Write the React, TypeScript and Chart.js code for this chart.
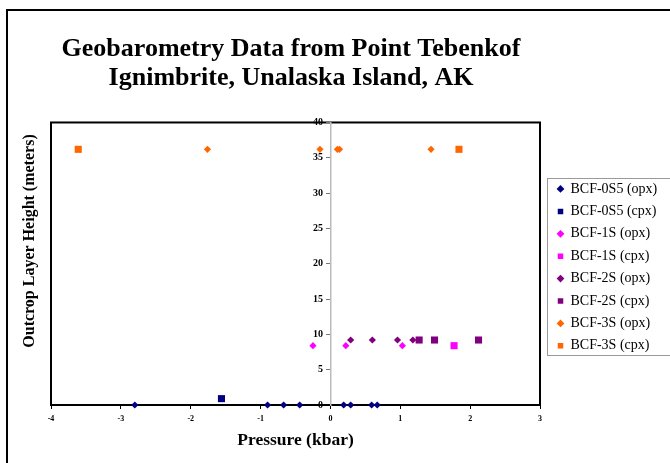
import React, { useEffect, useRef } from 'react';
import { Chart, registerables } from 'chart.js';

Chart.register(...registerables);

const FONT = '"Liberation Serif", "Times New Roman", serif';

const titleLines = ['Geobarometry Data from Point Tebenkof', 'Ignimbrite, Unalaska Island, AK'];
const xTitle = 'Pressure (kbar)';
const yTitle = 'Outcrop Layer Height (meters)';

const seriesNames = [
  'BCF-0S5 (opx)',
  'BCF-0S5 (cpx)',
  'BCF-1S (opx)',
  'BCF-1S (cpx)',
  'BCF-2S (opx)',
  'BCF-2S (cpx)',
  'BCF-3S (opx)',
  'BCF-3S (cpx)',
];
const seriesColors = ['#000080', '#000080', '#FF00FF', '#FF00FF', '#800080', '#800080', '#FF6600', '#FF6600'];
const seriesStyles = ['rectRot', 'rect', 'rectRot', 'rect', 'rectRot', 'rect', 'rectRot', 'rect'];

// pressure (kbar) and height (m) per series
const bcf0s5OpxP = [-2.8, -0.9, -0.67, -0.44, 0.19, 0.29, 0.59, 0.67];
const bcf0s5OpxH = [0, 0, 0, 0, 0, 0, 0, 0];
const bcf0s5CpxP = [-1.56];
const bcf0s5CpxH = [0.9];
const bcf1sOpxP = [-0.25, 0.22, 1.03];
const bcf1sOpxH = [8.4, 8.4, 8.4];
const bcf1sCpxP = [1.77];
const bcf1sCpxH = [8.4];
const bcf2sOpxP = [0.29, 0.6, 0.96, 1.18];
const bcf2sOpxH = [9.2, 9.2, 9.2, 9.2];
const bcf2sCpxP = [1.27, 1.49, 2.12];
const bcf2sCpxH = [9.2, 9.2, 9.2];
const bcf3sOpxP = [-1.76, -0.15, 0.1, 0.13, 1.44];
const bcf3sOpxH = [36.2, 36.2, 36.2, 36.2, 36.2];
const bcf3sCpxP = [-3.61, 1.84];
const bcf3sCpxH = [36.2, 36.2];

const seriesP = [bcf0s5OpxP, bcf0s5CpxP, bcf1sOpxP, bcf1sCpxP, bcf2sOpxP, bcf2sCpxP, bcf3sOpxP, bcf3sCpxP];
const seriesH = [bcf0s5OpxH, bcf0s5CpxH, bcf1sOpxH, bcf1sCpxH, bcf2sOpxH, bcf2sCpxH, bcf3sOpxH, bcf3sCpxH];

const xMin = -4;
const xMax = 3;
const xStep = 1;
const yMin = 0;
const yMax = 40;
const yStep = 5;

const framePlugin = {
  id: 'frames',
  beforeDraw(chart: any) {
    const { ctx, chartArea: ca, width, height } = chart;
    ctx.save();
    ctx.fillStyle = '#ffffff';
    ctx.fillRect(0, 0, width, height);
    ctx.strokeStyle = '#000000';
    ctx.lineWidth = 2;
    ctx.beginPath();
    ctx.moveTo(7, height + 4);
    ctx.lineTo(7, 10);
    ctx.lineTo(width + 4, 10);
    ctx.stroke();
    ctx.strokeRect(ca.left, ca.top, ca.right - ca.left, ca.bottom - ca.top);
    ctx.restore();
  },
  afterLayout(chart: any) {
    const lg = chart.legend;
    const ca = chart.chartArea;
    if (lg) {
      const pad = lg.options.labels.padding;
      const w = lg.right - lg.left;
      lg.left = ca.right + 17.5 - pad;
      lg.right = lg.left + w;
      const h = lg.bottom - lg.top;
      lg.top = ca.top + 59.5 - pad;
      lg.bottom = lg.top + h;
    }
    const t = chart.titleBlock;
    if (t) {
      t.left = 0;
      t.right = 582;
    }
  },
  afterDraw(chart: any) {
    const { ctx, chartArea: ca, width } = chart;
    const lg = chart.legend;
    ctx.save();
    if (lg && lg.legendHitBoxes && lg.legendHitBoxes.length) {
      const hb = lg.legendHitBoxes;
      const first = hb[0];
      const last = hb[hb.length - 1];
      const top = first.top + first.height / 2 - 11;
      const bottom = last.top + last.height / 2 + 9;
      ctx.strokeStyle = '#9a9a9a';
      ctx.lineWidth = 1;
      ctx.strokeRect(ca.right + 7.5, Math.round(top) + 0.5, width, Math.round(bottom - top));
    }
    ctx.fillStyle = '#000000';
    ctx.font = 'bold 16px ' + FONT;
    ctx.textAlign = 'center';
    ctx.textBaseline = 'middle';
    ctx.translate(30, 241);
    ctx.rotate(-Math.PI / 2);
    ctx.fillText(yTitle, 0, 0);
    ctx.restore();
  },
};

export default function App() {
  const canvasRef = useRef<HTMLCanvasElement | null>(null);

  useEffect(() => {
    if (!canvasRef.current) return;
    const datasets = seriesNames.map((name, i) => ({
      label: name,
      data: seriesP[i].map((p, j) => ({ x: p, y: seriesH[i][j] })),
      pointStyle: seriesStyles[i],
      pointRadius: seriesStyles[i] === 'rect' ? 5 : 3.6,
      pointHoverRadius: seriesStyles[i] === 'rect' ? 5 : 3.6,
      backgroundColor: seriesColors[i],
      borderColor: seriesColors[i],
      borderWidth: 0,
      showLine: false,
      clip: false,
    }));

    const chart = new Chart(canvasRef.current, {
      type: 'scatter',
      data: { datasets },
      options: {
        animation: false,
        responsive: false,
        maintainAspectRatio: false,
        devicePixelRatio: 1,
        layout: { padding: { top: 20, left: 51, right: 20, bottom: 0 } },
        plugins: {
          title: {
            display: true,
            text: titleLines,
            color: '#000',
            font: { family: FONT, size: 26, weight: 'bold', lineHeight: 1.115 },
            padding: { top: 14.5, bottom: 30 },
          },
          legend: {
            display: true,
            position: 'right',
            fullSize: false,
            align: 'start',
            maxWidth: 110,
            labels: {
              usePointStyle: true,
              boxWidth: 6,
              boxHeight: 5.5,
              padding: 8.4,
              color: '#000',
              font: { family: FONT, size: 14 },
            },
          },
          tooltip: { enabled: false },
        },
        scales: {
          x: {
            type: 'linear',
            position: 'bottom',
            min: xMin,
            max: xMax,
            ticks: {
              stepSize: xStep,
              color: '#000',
              padding: 5,
              font: { family: FONT, size: 8, weight: 'bold' },
            },
            grid: { drawOnChartArea: false, drawTicks: true, tickLength: 4, tickColor: '#000', tickWidth: 1 },
            border: { display: true, color: '#000', width: 2 },
            title: {
              display: true,
              text: xTitle,
              color: '#000',
              font: { family: FONT, size: 17.5, weight: 'bold', lineHeight: 1.2 },
              padding: { top: 0, bottom: 12.5 },
            },
            afterFit: (s: any) => {
              s.height = 58;
            },
          },
          y: {
            type: 'linear',
            position: { x: 0 },
            min: yMin,
            max: yMax,
            ticks: {
              stepSize: yStep,
              color: '#000',
              font: { family: FONT, size: 10, weight: 'bold' },
              callback: (v: any) => String(v) + '   ',
            },
            grid: { drawOnChartArea: false, drawTicks: true, tickLength: 4, tickColor: '#777', tickWidth: 1 },
            border: { display: true, color: '#bbbbbb', width: 1.5 },
            afterFit: (s: any) => {
              s.width = 0;
            },
          },
        },
      } as any,
      plugins: [framePlugin],
    });
    return () => chart.destroy();
  }, []);

  return (
    <div style={{ position: 'absolute', left: 0, top: 0, width: 670, height: 463, background: '#fff' }}>
      <canvas ref={canvasRef} width={670} height={463} style={{ display: 'block', width: 670, height: 463 }} />
    </div>
  );
}
